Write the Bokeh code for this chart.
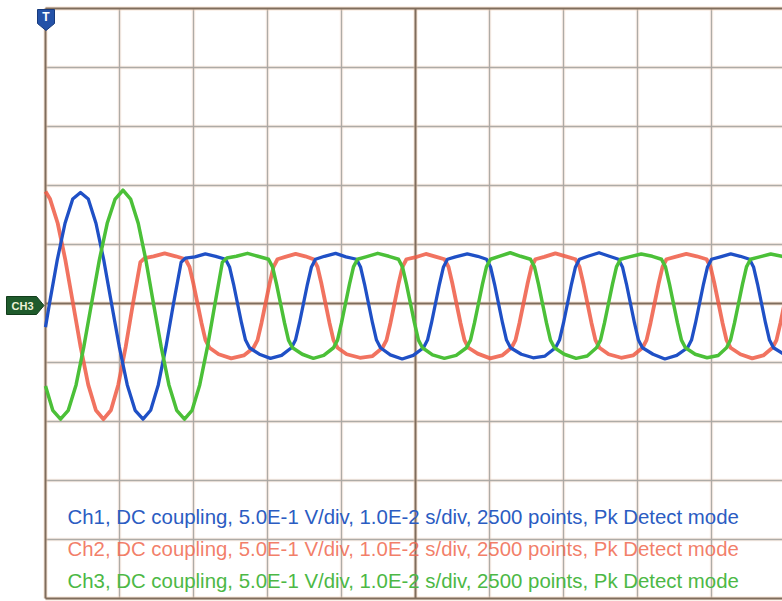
from bokeh.plotting import figure
from bokeh.models import ColumnDataSource, Range1d
from bokeh.core.properties import value
from bokeh.embed import file_html
from bokeh.resources import INLINE

# ---------------- data (time in ms, 10 ms/div; voltage in V, 0.5 V/div) ----------------
time_ticks = [0, 10, 20, 30, 40, 50, 60, 70, 80, 90, 100]
volt_ticks = [-2.5, -2.0, -1.5, -1.0, -0.5, 0.0, 0.5, 1.0, 1.5, 2.0, 2.5]

ch2_t = [0, 0.62, 1.65, 2.68, 3.72, 4.75, 5.78, 6.81, 7.84, 8.84, 9.83, 10.83, 11.82, 12.82, 13.4,
         14.6, 16.1, 17.6, 18.92, 19.46, 20.00, 20.54, 21.08, 21.62, 22.16,
         23.4, 25.1, 26.8, 28.11, 28.65, 29.19, 29.73, 30.27, 30.81, 31.35,
         32.4, 33.8, 35.1, 36.22, 36.76, 37.30, 37.84, 38.38, 38.92, 39.46,
         40.7, 42.5, 44.2, 45.54, 46.08, 46.62, 47.16, 47.70, 48.24, 48.78,
         49.9, 51.4, 52.8, 53.92, 54.46, 55.00, 55.54, 56.08, 56.62, 57.16,
         58.4, 60.1, 61.7, 62.97, 63.51, 64.05, 64.59, 65.13, 65.67, 66.21,
         67.4, 68.9, 70.3, 71.62, 72.16, 72.70, 73.24, 73.78, 74.32, 74.86,
         76.1, 77.8, 79.4, 80.68, 81.22, 81.76, 82.30, 82.84, 83.38, 83.92,
         85.1, 86.6, 88.0, 89.33, 89.87, 90.41, 90.95, 91.49, 92.03, 92.57,
         93.9, 95.5, 97.0, 98.24, 98.78, 99.32, 99.86, 100.4]
ch2_v = [0.95, 0.885, 0.68, 0.37, 0.0, -0.37, -0.69, -0.905, -0.98, -0.905, -0.69, -0.37, 0.0, 0.35, 0.385,
         0.40, 0.425, 0.40, 0.375, 0.31, 0.165, 0.0, -0.165, -0.31, -0.375,
         -0.43, -0.465, -0.44, -0.375, -0.31, -0.165, 0.0, 0.165, 0.31, 0.375,
         0.395, 0.42, 0.40, 0.375, 0.31, 0.165, 0.0, -0.165, -0.31, -0.375,
         -0.43, -0.46, -0.445, -0.375, -0.31, -0.165, 0.0, 0.165, 0.31, 0.375,
         0.39, 0.42, 0.395, 0.375, 0.31, 0.165, 0.0, -0.165, -0.31, -0.375,
         -0.425, -0.465, -0.44, -0.375, -0.31, -0.165, 0.0, 0.165, 0.31, 0.375,
         0.395, 0.425, 0.40, 0.375, 0.31, 0.165, 0.0, -0.165, -0.31, -0.375,
         -0.43, -0.46, -0.44, -0.375, -0.31, -0.165, 0.0, 0.165, 0.31, 0.375,
         0.395, 0.42, 0.40, 0.375, 0.31, 0.165, 0.0, -0.165, -0.31, -0.375,
         -0.43, -0.465, -0.44, -0.375, -0.31, -0.165, 0.0, 0.165]

ch1_t = [0, 0.54, 1.59, 2.64, 3.68, 4.73, 5.78, 6.82, 7.87, 8.92, 9.98, 11.05, 12.11, 13.18, 14.21, 15.24, 16.27, 17.30, 18.33, 18.9,
         20.2, 21.6, 23.0, 24.33, 24.87, 25.41, 25.95, 26.49, 27.03, 27.57,
         28.9, 30.4, 31.9, 33.24, 33.78, 34.32, 34.86, 35.40, 35.94, 36.48,
         37.7, 39.2, 40.6, 42.03, 42.57, 43.11, 43.65, 44.19, 44.73, 45.27,
         46.6, 48.2, 49.7, 51.08, 51.62, 52.16, 52.70, 53.24, 53.78, 54.32,
         55.4, 57.0, 58.4, 59.60, 60.14, 60.68, 61.22, 61.76, 62.30, 62.84,
         64.3, 65.9, 67.5, 68.92, 69.46, 70.00, 70.54, 71.08, 71.62, 72.16,
         73.3, 74.8, 76.2, 77.43, 77.97, 78.51, 79.05, 79.59, 80.13, 80.67,
         82.1, 83.7, 85.3, 86.76, 87.30, 87.84, 88.38, 88.92, 89.46, 90.00,
         91.2, 92.6, 93.9, 95.14, 95.68, 96.22, 96.76, 97.30, 97.84, 98.38,
         99.8, 101.0]
ch1_v = [-0.20, 0.0, 0.37, 0.68, 0.885, 0.94, 0.885, 0.68, 0.37, 0.0, -0.37, -0.69, -0.905, -0.98, -0.905, -0.69, -0.37, 0.0, 0.35, 0.385,
         0.395, 0.42, 0.40, 0.375, 0.31, 0.165, 0.0, -0.165, -0.31, -0.375,
         -0.43, -0.465, -0.44, -0.375, -0.31, -0.165, 0.0, 0.165, 0.31, 0.375,
         0.40, 0.425, 0.395, 0.375, 0.31, 0.165, 0.0, -0.165, -0.31, -0.375,
         -0.435, -0.47, -0.44, -0.375, -0.31, -0.165, 0.0, 0.165, 0.31, 0.375,
         0.395, 0.42, 0.40, 0.375, 0.31, 0.165, 0.0, -0.165, -0.31, -0.375,
         -0.43, -0.46, -0.445, -0.375, -0.31, -0.165, 0.0, 0.165, 0.31, 0.375,
         0.40, 0.43, 0.40, 0.375, 0.31, 0.165, 0.0, -0.165, -0.31, -0.375,
         -0.43, -0.47, -0.44, -0.375, -0.31, -0.165, 0.0, 0.165, 0.31, 0.375,
         0.395, 0.42, 0.40, 0.375, 0.31, 0.165, 0.0, -0.165, -0.31, -0.375,
         -0.43, -0.46]

ch3_t = [0, 0.98, 2.03, 3.08, 4.13, 5.17, 6.22, 7.28, 8.34, 9.41, 10.47, 11.50, 12.53, 13.56, 14.59, 15.64, 16.68, 17.73, 18.78, 19.81, 20.84, 21.88, 22.91, 23.9, 24.5,
         25.8, 27.3, 28.7, 30.14, 30.68, 31.22, 31.76, 32.30, 32.84, 33.38,
         34.7, 36.2, 37.6, 38.92, 39.46, 40.00, 40.54, 41.08, 41.62, 42.16,
         43.3, 44.9, 46.4, 47.70, 48.24, 48.78, 49.32, 49.86, 50.40, 50.94,
         52.3, 53.9, 55.5, 56.89, 57.43, 57.97, 58.51, 59.05, 59.59, 60.13,
         61.3, 62.8, 64.2, 65.54, 66.08, 66.62, 67.16, 67.70, 68.24, 68.78,
         70.1, 71.7, 73.2, 74.46, 75.00, 75.54, 76.08, 76.62, 77.16, 77.70,
         78.9, 80.5, 82.0, 83.24, 83.78, 84.32, 84.86, 85.40, 85.94, 86.48,
         87.8, 89.4, 90.9, 92.03, 92.57, 93.11, 93.65, 94.19, 94.73, 95.27,
         96.5, 98.0, 99.5, 100.8]
ch3_v = [-0.70, -0.905, -0.98, -0.905, -0.69, -0.37, 0.0, 0.37, 0.68, 0.885, 0.96, 0.885, 0.68, 0.37, 0.0, -0.37, -0.69, -0.905, -0.98, -0.905, -0.69, -0.37, 0.0, 0.35, 0.385,
         0.40, 0.425, 0.40, 0.375, 0.31, 0.165, 0.0, -0.165, -0.31, -0.375,
         -0.43, -0.465, -0.44, -0.375, -0.31, -0.165, 0.0, 0.165, 0.31, 0.375,
         0.395, 0.425, 0.40, 0.375, 0.31, 0.165, 0.0, -0.165, -0.31, -0.375,
         -0.435, -0.465, -0.44, -0.375, -0.31, -0.165, 0.0, 0.165, 0.31, 0.375,
         0.40, 0.43, 0.40, 0.375, 0.31, 0.165, 0.0, -0.165, -0.31, -0.375,
         -0.43, -0.465, -0.445, -0.375, -0.31, -0.165, 0.0, 0.165, 0.31, 0.375,
         0.395, 0.42, 0.40, 0.375, 0.31, 0.165, 0.0, -0.165, -0.31, -0.375,
         -0.43, -0.46, -0.44, -0.375, -0.31, -0.165, 0.0, 0.165, 0.31, 0.375,
         0.395, 0.42, 0.40, 0.375]

info_lines = [
    "Ch1, DC coupling, 5.0E-1 V/div, 1.0E-2 s/div, 2500 points, Pk Detect mode",
    "Ch2, DC coupling, 5.0E-1 V/div, 1.0E-2 s/div, 2500 points, Pk Detect mode",
    "Ch3, DC coupling, 5.0E-1 V/div, 1.0E-2 s/div, 2500 points, Pk Detect mode",
]

# ---------------- layout / style ----------------
W, H = 782, 601
LEFT_PX, TOP_PX = 45, 8
SX = 74 / 10.0      # px per ms
SY = 59 / 0.5       # px per V
V_TOP = volt_ticks[-1]
x0 = -LEFT_PX / SX
x1 = (W - LEFT_PX) / SX
y1 = V_TOP + TOP_PX / SY
y0 = y1 - H / SY


def at(px, py):
    return ((px - LEFT_PX) / SX, y1 - py / SY)


C_BLUE = "#1f50c6"
C_RED = "#ef5a44"
C_GREEN = "#4bc038"

p = figure(width=W, height=H, x_range=Range1d(x0, x1), y_range=Range1d(y0, y1),
           output_backend="svg", toolbar_location=None,
           x_axis_location=None, y_axis_location=None, min_border=0,
           outline_line_color=None, background_fill_color="white",
           border_fill_color="white")
p.xgrid.visible = False
p.ygrid.visible = False

t_min, t_max = time_ticks[0], time_ticks[-1]
v_min, v_max = volt_ticks[0], volt_ticks[-1]
t_mid = time_ticks[len(time_ticks) // 2]
major_t = [t_min, t_mid]
major_v = [v_min, 0.0, v_max]
minor_t = [t for t in time_ticks if t not in major_t]
minor_v = [v for v in volt_ticks if v not in major_v]

# minor grid: faint orange fringe + grey core
for col, w, a in (("#f7dccb", 3.5, 0.45), ("#aaa6a2", 1.3, 0.95)):
    p.segment(x0=minor_t, y0=[v_min] * len(minor_t), x1=minor_t, y1=[v_max] * len(minor_t),
              line_color=col, line_width=w, line_alpha=a)
    p.segment(x0=[t_min] * len(minor_v), y0=minor_v, x1=[t_max] * len(minor_v), y1=minor_v,
              line_color=col, line_width=w, line_alpha=a)
# border and centre lines
for col, w, a in (("#f2cdb2", 4.0, 0.5), ("#7f6d5c", 2.0, 1.0)):
    p.segment(x0=major_t, y0=[v_min] * len(major_t), x1=major_t, y1=[v_max] * len(major_t),
              line_color=col, line_width=w, line_alpha=a)
    p.segment(x0=[t_min] * len(major_v), y0=major_v, x1=[t_max] * len(major_v), y1=major_v,
              line_color=col, line_width=w, line_alpha=a)

# traces
p.line(ch2_t, ch2_v, line_color=C_RED, line_width=3.8, line_alpha=0.85, line_join="round")
p.line(ch1_t, ch1_v, line_color=C_BLUE, line_width=3.3, line_join="round")
p.line(ch3_t, ch3_v, line_color=C_GREEN, line_width=3.5, line_join="round")

# info text
tx, _ = at(67, 0)
ys = [at(0, 516)[1], at(0, 548)[1], at(0, 580)[1]]
src = ColumnDataSource(dict(x=[tx] * 3, y=ys, text=info_lines,
                            color=["#2b5cc2", "#f0684e", "#4cb845"],
                            alpha=[1.0, 0.85, 1.0]))
p.text(x="x", y="y", text="text", source=src, text_color="color", text_alpha="alpha",
       text_font=value("Liberation Sans"), text_font_size=value("20.4px"),
       text_align="left", text_baseline="alphabetic")

# trigger marker "T" at t=0, top of screen
tpx = [37, 54, 54, 45.5, 37]
tpy = [9, 9, 23, 30, 23]
pts = [at(a, b) for a, b in zip(tpx, tpy)]
p.patch([q[0] for q in pts], [q[1] for q in pts], fill_color="#2452a8",
        line_color="#173a7c", line_width=1)
tX, tY = at(45.5, 16.5)
p.text(x=[tX], y=[tY], text=["T"], text_color="white", text_font=value("Liberation Sans"),
       text_font_size=value("12px"), text_font_style="bold", text_align="center",
       text_baseline="middle")

# channel marker "CH3" at 0 V on the left
cpx = [6, 36, 43.5, 36, 6]
cpy = [296, 296, 305, 314, 314]
pts = [at(a, b) for a, b in zip(cpx, cpy)]
p.patch([q[0] for q in pts], [q[1] for q in pts], fill_color="#1f5b2c",
        line_color="#123d1c", line_width=1)
cX, cY = at(22, 305.5)
p.text(x=[cX], y=[cY], text=["CH3"], text_color="#eef2d8", text_font=value("Liberation Sans"),
       text_font_size=value("11px"), text_font_style="bold", text_align="center",
       text_baseline="middle")

open("out.html", "w").write(file_html(p, INLINE))
